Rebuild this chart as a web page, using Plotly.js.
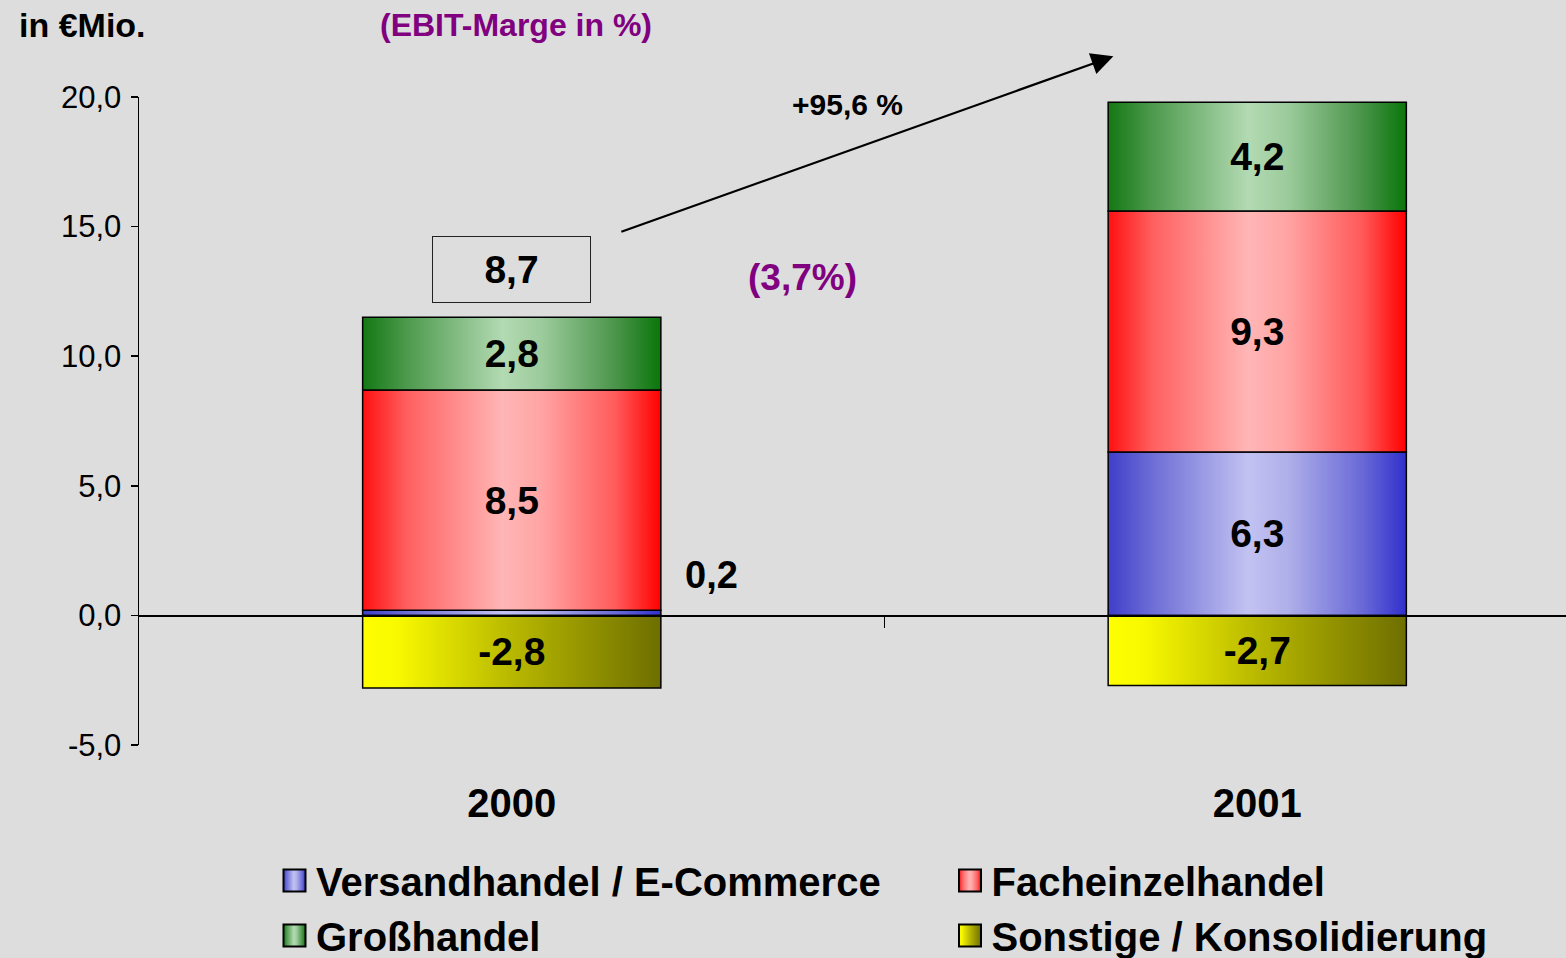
<!DOCTYPE html>
<html>
<head>
<meta charset="utf-8">
<script src="https://cdn.plot.ly/plotly-3.0.1.min.js"></script>
<style>html,body{margin:0;padding:0;background:#DDDDDD;}#chart{width:1566px;height:958px;}</style>
</head>
<body>
<div id="chart"></div>
<script>
// ---- data ----
const years = ['2000', '2001'];
const versand = [0.2, 6.3];
const fach = [8.5, 9.3];
const gross = [2.8, 4.2];
const sonstige = [-2.8, -2.7];
const totals = [8.7, 17.0];
const margins = ['(3,7%)', '(6,4%)'];
const growth = '+95,6 %';
const seriesNames = ['Versandhandel / E-Commerce', 'Facheinzelhandel', 'Großhandel', 'Sonstige / Konsolidierung'];
const yTicks = [-5, 0, 5, 10, 15, 20];

// ---- helpers ----
const W = 1566, H = 958;
const M = {l: 139, r: 0, t: 97, b: 213, autoexpand: false};
const pw = W - M.l - M.r, ph = H - M.t - M.b;
const CAT = 745.5;                       // pixels per category
const px = x => (x - M.l) / pw;          // pixel -> paper x
const py = y => (H - M.b - y) / ph;      // pixel -> paper y
const fmt = v => v.toFixed(1).replace('.', ',');
const FONT = 'Liberation Sans, Arial, sans-serif';
const xs = years.map((_, i) => i);

const fills = ['#8080DD', '#FF7070', '#5FA85F', '#C0C000'];
const seriesVals = [versand, fach, gross, sonstige];
const legendOf = ['legend', 'legend2', 'legend', 'legend2'];

const traces = seriesVals.map((vals, i) => ({
  type: 'bar',
  name: seriesNames[i],
  x: xs,
  y: vals,
  width: 0.4,
  legend: legendOf[i],
  marker: {color: fills[i], line: {color: '#000', width: 1.5}},
  texttemplate: '%{y:.1f}',
  textposition: 'inside',
  insidetextanchor: 'middle',
  textangle: 0,
  insidetextfont: {family: FONT, size: 39, color: '#000', weight: 'bold'},
  hoverinfo: 'skip'
}));

const annotations = [
  {xref: 'paper', yref: 'paper', x: px(17), y: py(25), xanchor: 'left', yanchor: 'middle',
   text: 'in €Mio.', showarrow: false, font: {family: FONT, size: 34, color: '#000', weight: 'bold'}},
  {xref: 'paper', yref: 'paper', x: px(516), y: py(25), xanchor: 'center', yanchor: 'middle',
   text: '(EBIT-Marge in %)', showarrow: false, font: {family: FONT, size: 32, color: '#800080', weight: 'bold'}},
  // totals in boxes
  {xref: 'x', yref: 'y', x: 0, y: 13.33, text: fmt(totals[0]), showarrow: false,
   width: 153, height: 61, borderpad: 2, bordercolor: '#222', borderwidth: 1,
   font: {family: FONT, size: 39, color: '#000', weight: 'bold'}},
  {xref: 'x', yref: 'y', x: 0.998, y: 21.68, text: fmt(totals[1]), showarrow: false,
   width: 186, height: 62, borderpad: 2, bordercolor: '#222', borderwidth: 1,
   font: {family: FONT, size: 39, color: '#000', weight: 'bold'}},
  // margins
  {xref: 'x', yref: 'y', x: 0.39, y: 13.04, text: margins[0], showarrow: false,
   font: {family: FONT, size: 37, color: '#800080', weight: 'bold'}},
  {xref: 'x', yref: 'y', x: 1.334, y: 21.45, text: margins[1], showarrow: false,
   font: {family: FONT, size: 37, color: '#800080', weight: 'bold'}},
  // growth
  {xref: 'x', yref: 'y', x: 0.451, y: 19.71, text: growth, showarrow: false,
   font: {family: FONT, size: 30, color: '#000', weight: 'bold'}},
  // arrow
  {xref: 'x', yref: 'y', axref: 'x', ayref: 'y', x: 0.807, y: 21.57, ax: 0.145, ay: 14.78,
   text: '', showarrow: true, arrowhead: 2, arrowsize: 2, arrowwidth: 2.2, arrowcolor: '#000', standoff: 0, startstandoff: 0},
  // small value label
  {xref: 'x', yref: 'y', x: 0.268, y: 1.54, text: fmt(versand[0]), showarrow: false,
   font: {family: FONT, size: 38, color: '#000', weight: 'bold'}}
];

const legendFont = {family: FONT, size: 40, color: '#000', weight: 'bold'};
const layout = {
  width: W, height: H,
  margin: M,
  paper_bgcolor: '#DDDDDD', plot_bgcolor: '#DDDDDD',
  separators: ',.',
  barmode: 'relative',
  bargap: 0,
  font: {family: FONT, color: '#000'},
  showlegend: true,
  uniformtext: {mode: 'hide', minsize: 20},
  xaxis: {
    range: [-0.5, -0.5 + pw / CAT],
    tickvals: xs, ticktext: years,
    anchor: 'free', position: 0.2,
    showline: true, linecolor: '#000', linewidth: 1.5,
    ticks: '', showgrid: false, zeroline: false,
    minor: {tickvals: [0.5], ticks: 'outside', ticklen: 11, tickcolor: '#000', tickwidth: 1.5, showgrid: false},
    tickfont: {family: FONT, size: 40, color: '#000', weight: 'bold'},
    ticklabelstandoff: 152,
    fixedrange: true
  },
  yaxis: {
    range: [-5, 20],
    tickvals: yTicks,
    ticktext: yTicks.map(fmt),
    showline: true, linecolor: '#000', linewidth: 1.5,
    ticks: 'outside', ticklen: 7, tickwidth: 1.5, tickcolor: '#000',
    showgrid: false, zeroline: false,
    tickfont: {family: FONT, size: 31, color: '#000'},
    ticklabelstandoff: 3,
    fixedrange: true
  },
  legend: {x: px(273), y: py(848), xanchor: 'left', yanchor: 'top', orientation: 'v',
    traceorder: 'normal', bgcolor: 'rgba(0,0,0,0)', font: legendFont, itemwidth: 33, tracegroupgap: 0},
  legend2: {x: px(948.5), y: py(848), xanchor: 'left', yanchor: 'top', orientation: 'v',
    traceorder: 'normal', bgcolor: 'rgba(0,0,0,0)', font: legendFont, itemwidth: 33, tracegroupgap: 0},
  annotations: annotations
};

const gradients = [
  [[0, '#3E3ECA'], [0.15, '#6E6ED6'], [0.47, '#C2C2F2'], [0.6, '#B0B0EA'], [0.85, '#6A6AD8'], [1, '#3030CC']],
  [[0, '#FF1010'], [0.15, '#FF6060'], [0.47, '#FFB6B6'], [0.6, '#FFA4A4'], [0.85, '#FF5A5A'], [1, '#FF0000']],
  [[0, '#137813'], [0.15, '#4E9A4E'], [0.47, '#B3DAB3'], [0.6, '#9CCB9C'], [0.85, '#4A944A'], [1, '#0A760A']],
  [[0, '#FFFF00'], [0.12, '#F8F800'], [0.5, '#B8B800'], [1, '#6E6E00']]
];

Plotly.newPlot('chart', traces, layout, {displayModeBar: false, staticPlot: true}).then(gd => {
  const svg = gd.querySelector('svg.main-svg');
  const NS = 'http://www.w3.org/2000/svg';
  let defs = svg.querySelector('defs');
  if (!defs) { defs = document.createElementNS(NS, 'defs'); svg.insertBefore(defs, svg.firstChild); }
  gradients.forEach((stops, i) => {
    const g = document.createElementNS(NS, 'linearGradient');
    g.setAttribute('id', 'barGrad' + i);
    g.setAttribute('x1', '0'); g.setAttribute('x2', '1'); g.setAttribute('y1', '0'); g.setAttribute('y2', '0');
    stops.forEach(([o, c]) => {
      const s = document.createElementNS(NS, 'stop');
      s.setAttribute('offset', o); s.setAttribute('stop-color', c);
      g.appendChild(s);
    });
    defs.appendChild(g);
  });
  gd.querySelectorAll('.barlayer .trace').forEach((t, k) => {
    const d = t.__data__;
    const idx = d && d[0] && d[0].trace ? d[0].trace.index : k;
    t.querySelectorAll('path').forEach(p => { p.style.fill = 'url(#barGrad' + idx + ')'; });
  });
  gd.querySelectorAll('g.traces').forEach(t => {
    const d = t.__data__;
    const tr = d && d[0] && d[0].trace;
    if (!tr) return;
    t.querySelectorAll('.legendpoints path').forEach(p => {
      p.setAttribute('d', 'M11,11H-11V-11H11Z');
      p.style.fill = 'url(#barGrad' + tr.index + ')';
      p.style.stroke = '#000';
      p.style.strokeWidth = '2px';
    });
  });
});
</script>
</body>
</html>
